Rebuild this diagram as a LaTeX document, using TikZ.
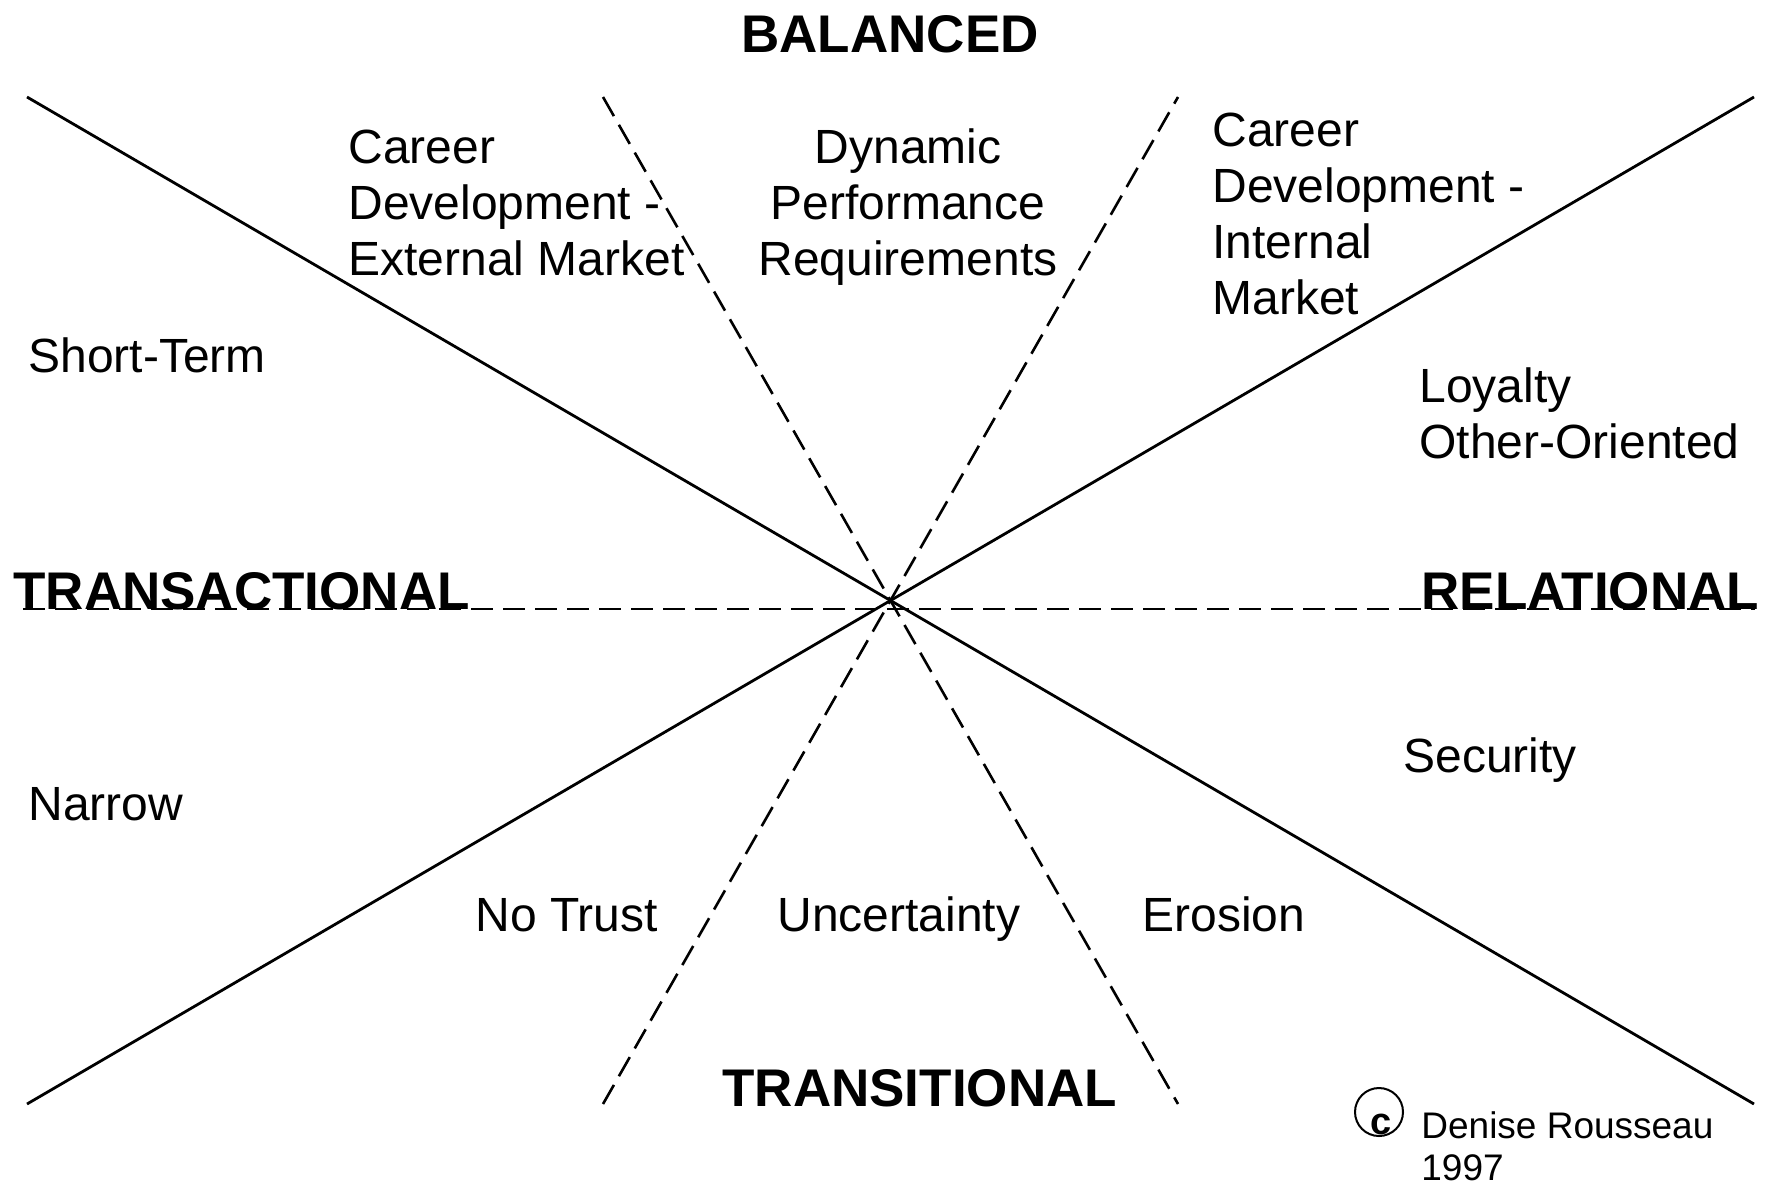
\documentclass[tikz,border=0pt]{standalone}
\usepackage{fontspec}
\setmainfont{Liberation Sans}
\tikzset{
  solidline/.style={line width=1.4pt},
  dashline/.style={line width=1.3pt, dash pattern=on 11pt off 5pt},
  lbl/.style={inner sep=0pt, anchor=base west, align=left,
    font=\fontsize{24}{28}\selectfont},
  pole/.style={inner sep=0pt, anchor=base west,
    font=\fontsize{26.5}{30}\selectfont\bfseries},
  credit/.style={inner sep=0pt, anchor=base west, align=left,
    font=\fontsize{18.5}{21}\selectfont},
}
\begin{document}
\begin{tikzpicture}[x=0.5pt,y=-0.5pt]
      \useasboundingbox (0,0) rectangle (1766,1190);
      % line ends
      \coordinate (tl) at (27,97);
      \coordinate (br) at (1754,1104);
      \coordinate (tr) at (1754,97);
      \coordinate (bl) at (27,1104);
      \coordinate (dtl) at (603,97);
      \coordinate (dbr) at (1178,1104);
      \coordinate (dtr) at (1178,97);
      \coordinate (dbl) at (603,1104);
      \coordinate (hl) at (23,609);
      \coordinate (hr) at (1755,609);
      % labels (multi-line ones sit on their last line)
      \draw
        (890,52) node[pole, anchor=base] (balanced){BALANCED}
        (722,1106) node[pole] (transitional){TRANSITIONAL}
        (13,609) node[pole] (transactional){TRANSACTIONAL}
        (1421,609) node[pole] (relational){RELATIONAL}
        (348,275) node[lbl] (extmarket){Career\\Development -\\External Market}
        (908,275) node[lbl, anchor=base, align=center] (dynamic){Dynamic\\Performance\\Requirements}
        (1212,314) node[lbl] (intmarket){Career\\Development -\\Internal\\Market}
        (28,372) node[lbl] (shortterm){Short-Term}
        (1419,458) node[lbl] (loyalty){Loyalty\\Other-Oriented}
        (28,820) node[lbl] (narrow){Narrow}
        (1403,772) node[lbl] (security){Security}
        (475,931) node[lbl] (notrust){No Trust}
        (777,931) node[lbl] (uncertainty){Uncertainty}
        (1142,931) node[lbl] (erosion){Erosion};
      \node[draw, circle, line width=1pt, minimum size=24pt, inner sep=0pt] (copy) at (1379,1112) {};
      \node[inner sep=0pt, font=\fontsize{19}{20}\selectfont\bfseries] (copyc) at (1381,1124) {c};
      \node[credit] (author) at (1421,1180) {Denise Rousseau\\1997};
      \begin{scope}[solidline]
        \draw (tl) to (br);
        \draw (bl) to (tr);
      \end{scope}
      \begin{scope}[dashline]
        \draw (dtl) to (dbr);
        \draw (dbl) to (dtr);
        \draw (hl) to (hr);
      \end{scope}
    \end{tikzpicture}
\end{document}
